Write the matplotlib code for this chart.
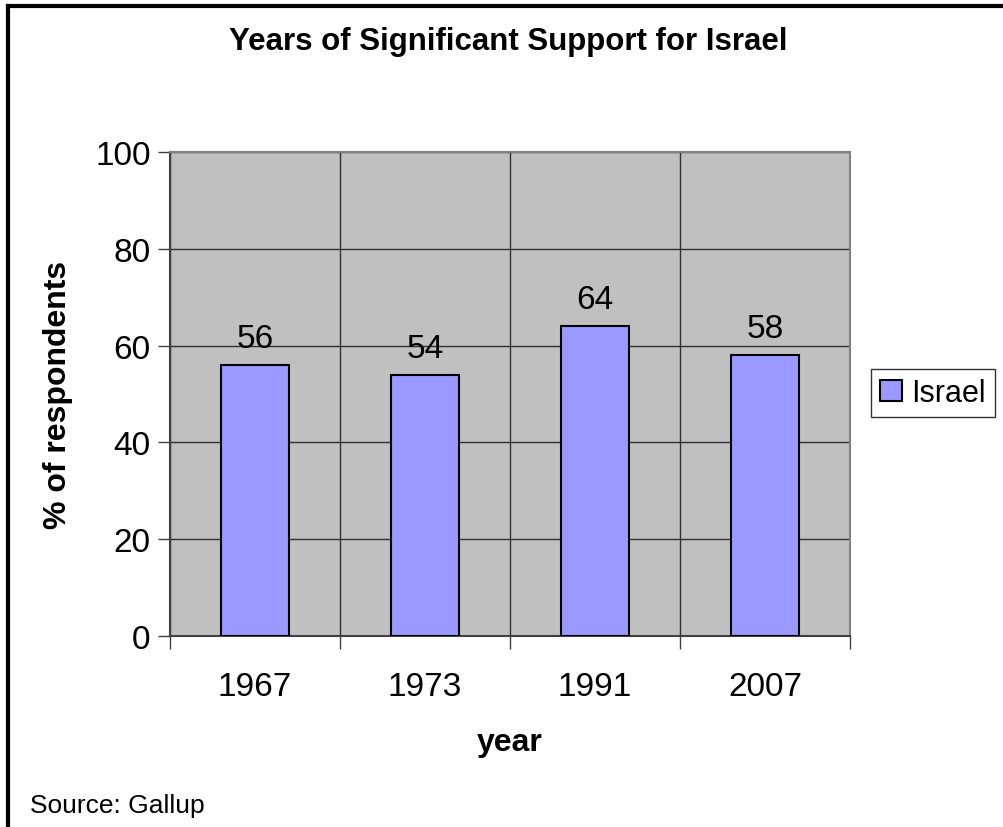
import numpy as np
import matplotlib.pyplot as plt

plt.rcParams['font.family'] = ['Liberation Sans', 'DejaVu Sans']

years = ['1967', '1973', '1991', '2007']
support = [56, 54, 64, 58]
series_name = 'Israel'
y_ticks = [0, 20, 40, 60, 80, 100]

W, H = 1004, 828
fig = plt.figure(figsize=(W / 100, H / 100), dpi=100)

# outer chart border: only the top and left edges show in the picture
fig.add_artist(plt.Line2D([8 / W, 8 / W], [0, 1 - 7 / H], transform=fig.transFigure,
                          color='black', linewidth=3))
fig.add_artist(plt.Line2D([8 / W, 1], [1 - 7 / H, 1 - 7 / H], transform=fig.transFigure,
                          color='black', linewidth=3))

ax = fig.add_axes([170 / W, 1 - 637 / H, 680 / W, 484 / H])
ax.set_facecolor('#C0C0C0')

x = np.arange(len(years))
bars = ax.bar(x, support, width=0.4, color='#9999FF', edgecolor='black', linewidth=1.5,
              label=series_name, zorder=3)
for b, v in zip(bars, support):
    ax.text(b.get_x() + b.get_width() / 2, v + 2.3, str(v), ha='center', va='bottom', fontsize=24)

ax.set_xlim(-0.5, len(years) - 0.5)
ax.set_ylim(0, 100)
ax.set_yticks(y_ticks)
ax.set_xticks(x)
ax.set_xticklabels(years)
ax.set_xticks(np.arange(len(years) + 1) - 0.5, minor=True)
ax.tick_params(axis='x', which='major', length=0, pad=25, labelsize=24)
ax.tick_params(axis='x', which='minor', length=9, width=1, color='#404040')
ax.tick_params(axis='y', length=9, width=1, color='#404040', labelsize=24, pad=5)

ax.grid(axis='y', color='#303030', linewidth=1, zorder=0)
ax.grid(axis='x', which='minor', color='#303030', linewidth=1, zorder=0)
ax.set_axisbelow(True)

for s in ['top', 'right']:
    ax.spines[s].set_color('#808080')
    ax.spines[s].set_linewidth(1.5)
for s in ['left', 'bottom']:
    ax.spines[s].set_color('#404040')
    ax.spines[s].set_linewidth(1.5)

ax.set_xlabel('year', fontsize=23, fontweight='bold', labelpad=18)
ax.set_ylabel('% of respondents', fontsize=23, fontweight='bold', labelpad=16)

fig.text(508 / W, 1 - 42 / H, 'Years of Significant Support for Israel', ha='center', va='center',
         fontsize=22.5, fontweight='bold')
fig.text(30 / W, 1 - 806 / H, 'Source: Gallup', ha='left', va='center', fontsize=19)

leg = fig.legend(loc='center', bbox_to_anchor=(933 / W, 1 - 394 / H), fontsize=22,
                 frameon=True, fancybox=False, edgecolor='black', handlelength=0.7,
                 handleheight=0.7, handletextpad=0.3, borderpad=0.3)
leg.get_frame().set_linewidth(1)

fig.savefig('out.png', dpi=100)
